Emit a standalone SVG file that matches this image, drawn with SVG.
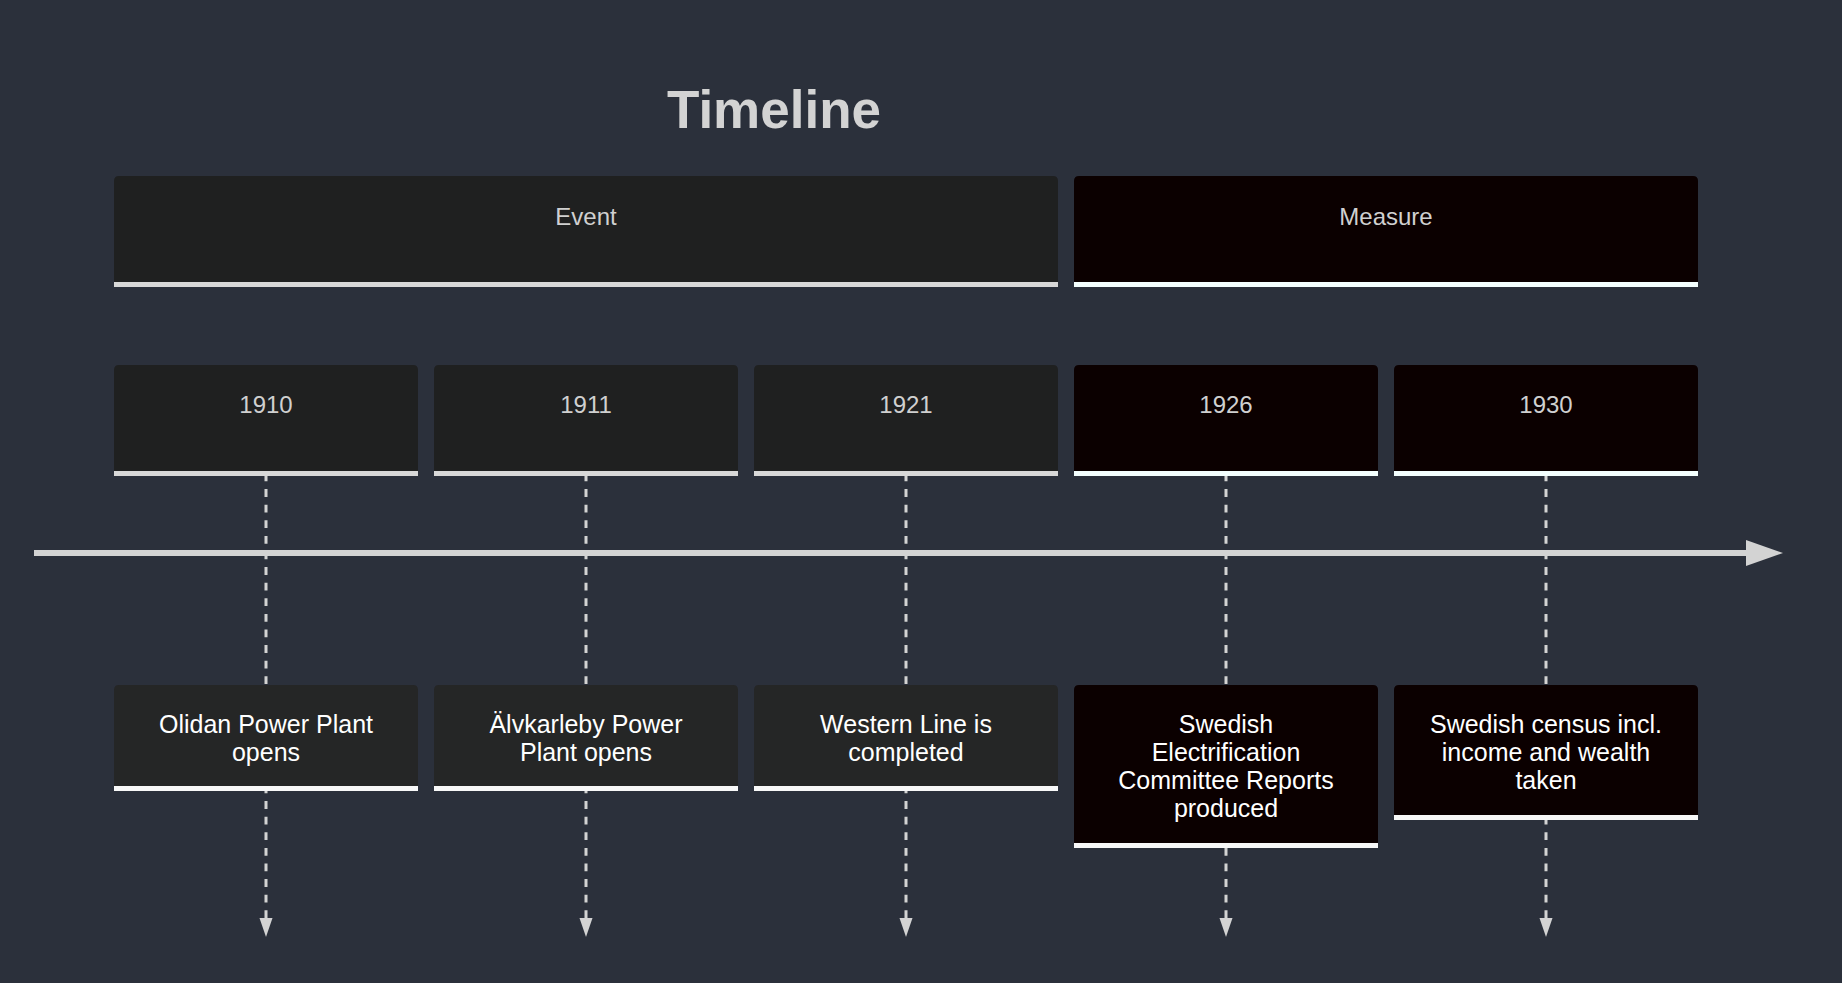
<svg xmlns="http://www.w3.org/2000/svg" width="1842" height="983" viewBox="0 0 1842 983">
<style>
.bg{fill:#2b303b}
.title{font-family:"Liberation Sans",Arial,sans-serif;font-weight:bold;font-size:53px;fill:#d3d3d3;text-anchor:middle}
.hdr{font-family:"Liberation Sans",Arial,sans-serif;font-size:24px;fill:#d0d0d0;text-anchor:middle}
.task{font-family:"Liberation Sans",Arial,sans-serif;font-size:25px;fill:#ffffff;text-anchor:middle}
.ev{fill:#1f2020}
.evt{fill:#252626}
.ms{fill:#0b0000}
.ln1{stroke:#d8d8d8;stroke-width:5}
.ln2{stroke:#f8f8f8;stroke-width:5}
.ln3{stroke:#f4fffe;stroke-width:5}
.dash{stroke:#d3d3d3;stroke-width:3;stroke-dasharray:7.8 7.8;fill:none}
.axis{stroke:#d3d3d3;stroke-width:6}
.head{fill:#d3d3d3}
</style>
<rect class="bg" x="0" y="0" width="1842" height="983"/>
<text class="title" x="774" y="128">Timeline</text>

<g id="connectors">
  <line class="axis" x1="34" y1="553" x2="1748" y2="553"/>
  <polygon class="head" points="1746,540 1783,553 1746,566"/>
  <line class="dash" x1="266" y1="473.5" x2="266" y2="919"/>
  <polygon class="head" points="259.5,918 272.5,918 266,937"/>
  <line class="dash" x1="586" y1="473.5" x2="586" y2="919"/>
  <polygon class="head" points="579.5,918 592.5,918 586,937"/>
  <line class="dash" x1="906" y1="473.5" x2="906" y2="919"/>
  <polygon class="head" points="899.5,918 912.5,918 906,937"/>
  <line class="dash" x1="1226" y1="473.5" x2="1226" y2="919"/>
  <polygon class="head" points="1219.5,918 1232.5,918 1226,937"/>
  <line class="dash" x1="1546" y1="473.5" x2="1546" y2="919"/>
  <polygon class="head" points="1539.5,918 1552.5,918 1546,937"/>
</g>

<g id="section-event" transform="translate(114,176)">
  <path class="ev" d="M0 108.5 V5 Q0 0 5 0 H939 Q944 0 944 5 V108.5 Z"/>
  <line class="ln1" x1="0" y1="108.5" x2="944" y2="108.5"/>
  <text class="hdr" x="472" y="49">Event</text>
</g>
<g id="section-measure" transform="translate(1074,176)">
  <path class="ms" d="M0 108.5 V5 Q0 0 5 0 H619 Q624 0 624 5 V108.5 Z"/>
  <line class="ln3" x1="0" y1="108.5" x2="624" y2="108.5"/>
  <text class="hdr" x="312" y="49">Measure</text>
</g>

<g id="year-1910" transform="translate(114,365)">
  <path class="ev" d="M0 108.5 V5 Q0 0 5 0 H299 Q304 0 304 5 V108.5 Z"/>
  <line class="ln1" x1="0" y1="108.5" x2="304" y2="108.5"/>
  <text class="hdr" x="152" y="48">1910</text>
</g>
<g id="year-1911" transform="translate(434,365)">
  <path class="ev" d="M0 108.5 V5 Q0 0 5 0 H299 Q304 0 304 5 V108.5 Z"/>
  <line class="ln1" x1="0" y1="108.5" x2="304" y2="108.5"/>
  <text class="hdr" x="152" y="48">1911</text>
</g>
<g id="year-1921" transform="translate(754,365)">
  <path class="ev" d="M0 108.5 V5 Q0 0 5 0 H299 Q304 0 304 5 V108.5 Z"/>
  <line class="ln1" x1="0" y1="108.5" x2="304" y2="108.5"/>
  <text class="hdr" x="152" y="48">1921</text>
</g>
<g id="year-1926" transform="translate(1074,365)">
  <path class="ms" d="M0 108.5 V5 Q0 0 5 0 H299 Q304 0 304 5 V108.5 Z"/>
  <line class="ln3" x1="0" y1="108.5" x2="304" y2="108.5"/>
  <text class="hdr" x="152" y="48">1926</text>
</g>
<g id="year-1930" transform="translate(1394,365)">
  <path class="ms" d="M0 108.5 V5 Q0 0 5 0 H299 Q304 0 304 5 V108.5 Z"/>
  <line class="ln3" x1="0" y1="108.5" x2="304" y2="108.5"/>
  <text class="hdr" x="152" y="48">1930</text>
</g>

<g id="task-olidan" transform="translate(114,685)">
  <path class="evt" d="M0 103.5 V5 Q0 0 5 0 H299 Q304 0 304 5 V103.5 Z"/>
  <line class="ln2" x1="0" y1="103.5" x2="304" y2="103.5"/>
  <text class="task" x="152" y="48">Olidan Power Plant</text>
  <text class="task" x="152" y="76">opens</text>
</g>
<g id="task-alvkarleby" transform="translate(434,685)">
  <path class="evt" d="M0 103.5 V5 Q0 0 5 0 H299 Q304 0 304 5 V103.5 Z"/>
  <line class="ln2" x1="0" y1="103.5" x2="304" y2="103.5"/>
  <text class="task" x="152" y="48">Älvkarleby Power</text>
  <text class="task" x="152" y="76">Plant opens</text>
</g>
<g id="task-western" transform="translate(754,685)">
  <path class="evt" d="M0 103.5 V5 Q0 0 5 0 H299 Q304 0 304 5 V103.5 Z"/>
  <line class="ln2" x1="0" y1="103.5" x2="304" y2="103.5"/>
  <text class="task" x="152" y="48">Western Line is</text>
  <text class="task" x="152" y="76">completed</text>
</g>
<g id="task-electrification" transform="translate(1074,685)">
  <path class="ms" d="M0 160.5 V5 Q0 0 5 0 H299 Q304 0 304 5 V160.5 Z"/>
  <line class="ln2" x1="0" y1="160.5" x2="304" y2="160.5"/>
  <text class="task" x="152" y="48">Swedish</text>
  <text class="task" x="152" y="76">Electrification</text>
  <text class="task" x="152" y="104">Committee Reports</text>
  <text class="task" x="152" y="132">produced</text>
</g>
<g id="task-census" transform="translate(1394,685)">
  <path class="ms" d="M0 132.5 V5 Q0 0 5 0 H299 Q304 0 304 5 V132.5 Z"/>
  <line class="ln2" x1="0" y1="132.5" x2="304" y2="132.5"/>
  <text class="task" x="152" y="48">Swedish census incl.</text>
  <text class="task" x="152" y="76">income and wealth</text>
  <text class="task" x="152" y="104">taken</text>
</g>
</svg>
